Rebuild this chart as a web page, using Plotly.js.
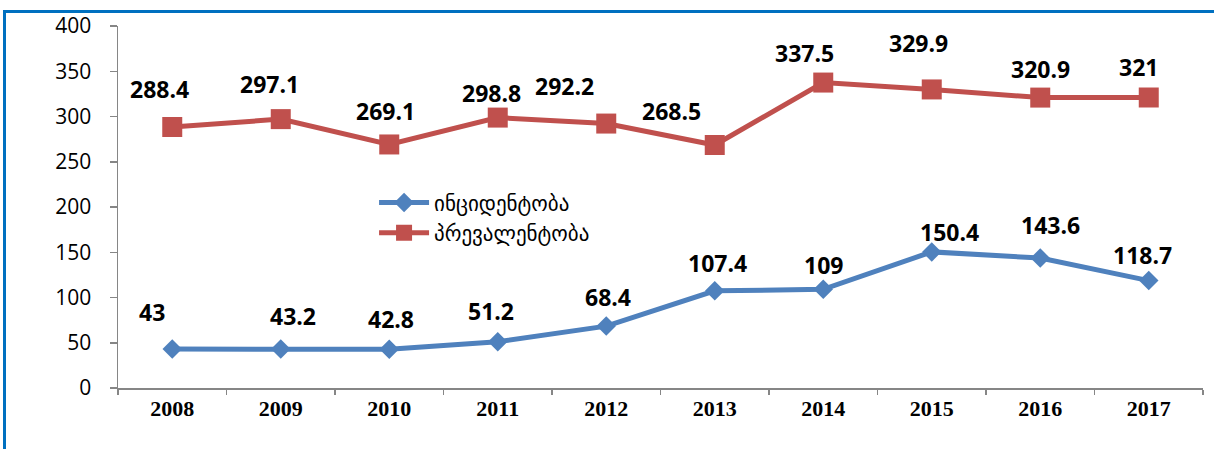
<!DOCTYPE html>
<html>
<head>
<meta charset="utf-8">
<script src="https://cdn.plot.ly/plotly-3.0.1.min.js"></script>
<style>
  html, body { margin: 0; padding: 0; background: #ffffff; }
  #frame { position: absolute; left: 3px; top: 10px; width: 1211px; height: 439px;
           border-top: 3px solid #0070C0; border-left: 3px solid #0070C0; box-sizing: border-box; }
  #chart { position: absolute; left: 0; top: 0; width: 1214px; height: 449px; }
</style>
</head>
<body>
<div id="frame"></div>
<div id="chart"></div>
<script>
// ---- data ----
const years = ["2008", "2009", "2010", "2011", "2012", "2013", "2014", "2015", "2016", "2017"];
const incidence = [43, 43.2, 42.8, 51.2, 68.4, 107.4, 109, 150.4, 143.6, 118.7];
const prevalence = [288.4, 297.1, 269.1, 298.8, 292.2, 268.5, 337.5, 329.9, 320.9, 321];
const seriesNames = ["ინციდენტობა", "პრევალენტობა"];
const yTicks = [0, 50, 100, 150, 200, 250, 300, 350, 400];

// ---- label placement (pixel offsets from each point) ----
const incShiftX = [-20, 12, 2, -7, 2, 3, 0, 18, 10, -6];
const incShiftY = [37, 33, 30, 31, 29, 28, 24, 20, 33, 26];
const prevShiftX = [-13, -11, -4, -6, -42, -43, -19, -13, 0, -10];
const prevShiftY = [38, 35, 33, 25, 38, 34, 30, 46, 29, 31];

const blue = "#4F81BD", red = "#C0504D";

const traces = [
  { x: years, y: incidence, name: seriesNames[0], type: "scatter", mode: "lines+markers",
    line: { color: blue, width: 5 }, marker: { symbol: "diamond", size: 15, color: blue } },
  { x: years, y: prevalence, name: seriesNames[1], type: "scatter", mode: "lines+markers",
    line: { color: red, width: 5 }, marker: { symbol: "square", size: 20, color: red } }
];

const labelFont = { family: "Open Sans, sans-serif", size: 23, color: "#000000" };
const annotations = [];
years.forEach((yr, i) => {
  annotations.push({ xref: "x", yref: "y", x: i, y: incidence[i], text: "<b>" + incidence[i] + "</b>", showarrow: false,
    xshift: incShiftX[i], yshift: incShiftY[i], yanchor: "middle", xanchor: "center", font: labelFont });
  annotations.push({ xref: "x", yref: "y", x: i, y: prevalence[i], text: "<b>" + prevalence[i] + "</b>", showarrow: false,
    xshift: prevShiftX[i], yshift: prevShiftY[i], yanchor: "middle", xanchor: "center", font: labelFont });
});

const layout = {
  width: 1214, height: 449,
  margin: { l: 118, r: 11, t: 26, b: 61 },
  paper_bgcolor: "rgba(0,0,0,0)", plot_bgcolor: "rgba(0,0,0,0)",
  showlegend: true,
  legend: { x: 0.236, y: 0.568, xanchor: "left", yanchor: "top", bgcolor: "rgba(0,0,0,0)",
            font: { family: "DejaVu Sans, sans-serif", size: 21, color: "#000000" },
            itemwidth: 50, tracegroupgap: 0 },
  xaxis: { type: "category", range: [-0.5, 9.5], showgrid: false, zeroline: false,
           showline: true, linecolor: "#868686", linewidth: 1.5,
           ticks: "outside", tickson: "boundaries", ticklen: 5, tickcolor: "#868686", tickwidth: 1.5,
           tickfont: { family: "Liberation Serif, serif", size: 22, color: "#000000", weight: "bold" },
           fixedrange: true },
  yaxis: { range: [0, 400], tickvals: yTicks, showgrid: false, zeroline: false,
           showline: true, linecolor: "#868686", linewidth: 1.5,
           ticks: "outside", ticklen: 7, tickcolor: "#868686", tickwidth: 1.5,
           ticklabelstandoff: 14,
           tickfont: { family: "Open Sans, sans-serif", size: 21, color: "#000000" },
           fixedrange: true },
  annotations: annotations
};

Plotly.newPlot("chart", traces, layout, { displayModeBar: false, staticPlot: true });
</script>
</body>
</html>
